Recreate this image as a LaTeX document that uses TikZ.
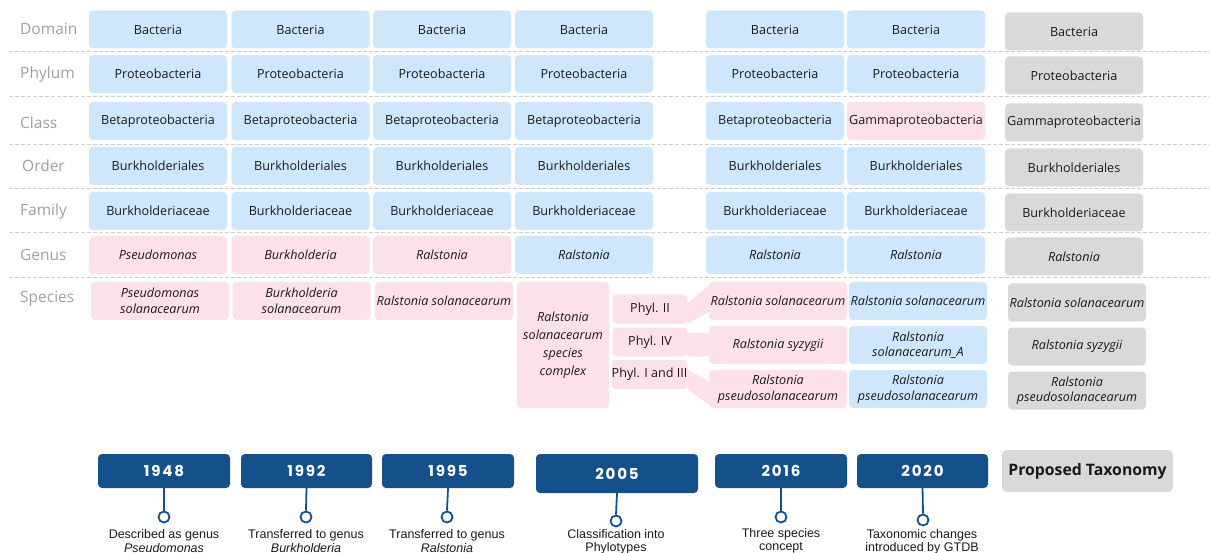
\documentclass[tikz,border=0pt]{standalone}
\usepackage{fontspec}
\setmainfont{Open Sans}
\newfontfamily\yearfont{Poppins}[LetterSpace=12]
\newfontfamily\capfont{Liberation Sans}
\usetikzlibrary{backgrounds}
\definecolor{bblue}{RGB}{206,231,252}
\definecolor{bpink}{RGB}{253,225,233}
\definecolor{bgrey}{RGB}{217,217,217}
\definecolor{dblue}{RGB}{20,80,138}
\definecolor{txt}{RGB}{26,26,26}
\definecolor{labgrey}{RGB}{160,160,160}
\definecolor{sepgrey}{RGB}{205,205,205}
\definecolor{tlgrey}{RGB}{235,235,235}
\tikzset{
  bx/.style={rounded corners=4pt, minimum width=138pt, minimum height=38pt, inner sep=0pt,
    align=center, text=txt, font=\fontsize{12.6}{15.5}\selectfont},
  bluebox/.style={bx, fill=bblue},
  pinkbox/.style={bx, fill=bpink},
  greybox/.style={bx, fill=bgrey},
  rowlab/.style={anchor=west, inner sep=0pt, text=labgrey, font=\fontsize{15.5}{17}\selectfont},
  sepline/.style={draw=sepgrey, line width=1pt, dash pattern=on 4pt off 2pt},
  yearbox/.style={rounded corners=4pt, fill=dblue, minimum width=132pt, minimum height=34pt,
    inner sep=0pt, text=white, font=\yearfont\bfseries\fontsize{15}{16}\selectfont},
  dot/.style={circle, draw=dblue, line width=1.8pt, fill=white, minimum size=11pt, inner sep=0pt},
  stem/.style={draw=dblue, line width=1.8pt},
  caption/.style={align=center, inner sep=0pt, text=txt, font=\capfont\fontsize{12.5}{13.5}\selectfont},
  tline/.style={draw=tlgrey, line width=4pt},
  phylbox/.style={pinkbox, minimum width=75pt, minimum height=29pt},
}
\begin{document}
\begin{tikzpicture}[x=1pt,y=-1pt]
\useasboundingbox (0,0) rectangle (1210,553);
\clip (0,0) rectangle (1210,553);
\fill[white] (0,0) rectangle (1210,553);

% separators
\foreach \yy in {52,97,145,189,233,278} \draw[sepline] (9,\yy) -- (1210,\yy);

% row labels
\node[rowlab] (lDomain) at (20,29) {Domain};
\node[rowlab] (lPhylum) at (20,74) {Phylum};
\node[rowlab] (lClass) at (20,123) {Class};
\node[rowlab] (lOrder) at (22,166) {Order};
\node[rowlab] (lFamily) at (20,211) {Family};
\node[rowlab] (lGenus) at (20,255) {Genus};
\node[rowlab] (lSpecies) at (20,299) {Species};

% columns 1-6 (blue rows)
\foreach \c/\x in {1/158,2/300.5,3/442,4/584,5/775,6/916} {
  \node[bluebox] (dom\c) at (\x,29.5) {Bacteria};
  \node[bluebox] (phy\c) at (\x,74) {Proteobacteria};
  \node[bluebox] (ord\c) at (\x,166) {Burkholderiales};
  \node[bluebox] (fam\c) at (\x,211) {Burkholderiaceae};
}
\foreach \c/\x in {1/158,2/300.5,3/442,4/584,5/775} {
  \node[bluebox] (cla\c) at (\x,121) {Betaproteobacteria};
}
\node[pinkbox] (cla6) at (916,121) {Gammaproteobacteria};

% genus
\node[pinkbox] (gen1) at (158,255) {\itshape Pseudomonas};
\node[pinkbox] (gen2) at (300.5,255) {\itshape Burkholderia};
\node[pinkbox] (gen3) at (442,255) {\itshape Ralstonia};
\node[bluebox] (gen4) at (584,255) {\itshape Ralstonia};
\node[bluebox] (gen5) at (775,255) {\itshape Ralstonia};
\node[bluebox] (gen6) at (916,255) {\itshape Ralstonia};

% species cols 1-3
\node[pinkbox] (spe1) at (160,301) {\itshape Pseudomonas\\\itshape solanacearum};
\node[pinkbox] (spe2) at (301.5,301) {\itshape Burkholderia\\\itshape solanacearum};
\node[pinkbox] (spe3) at (444,301) {\itshape Ralstonia solanacearum};

% species complex
\node[pinkbox, minimum width=92pt, minimum height=126pt, font=\fontsize{12.6}{18}\selectfont] (cplx) at (563,345)
  {\itshape Ralstonia\\\itshape solanacearum\\\itshape species\\\itshape complex};
\node[phylbox] (ph2) at (650,309) {Phyl. II};
\node[phylbox] (ph4) at (650,342) {Phyl. IV};
\node[phylbox, minimum width=76pt] (ph13) at (649.5,374.5) {Phyl. I and III};

% ribbons
\fill[bpink] (ph2.east |- 0,303) -- (712,283) -- (712,310) -- (ph2.south east) -- cycle;
\fill[bpink] (ph4.east |- 0,333) -- (712,333) -- (712,356) -- (ph4.south east) -- cycle;
\fill[bpink] (ph13.east |- 0,370) -- (712,383) -- (712,407) -- (ph13.south east) -- cycle;

% species col 5 (pink)
\node[pinkbox] (spe5a) at (778,301) {\itshape Ralstonia solanacearum};
\node[pinkbox] (spe5b) at (778,345) {\itshape Ralstonia syzygii};
\node[pinkbox] (spe5c) at (778,389) {\itshape Ralstonia\\\itshape pseudosolanacearum};

% species col 6 (blue)
\node[bluebox] (spe6a) at (918,301) {\itshape Ralstonia solanacearum};
\node[bluebox] (spe6b) at (918,345) {\itshape Ralstonia\\\itshape solanacearum\_A};
\node[bluebox] (spe6c) at (918,389) {\itshape Ralstonia\\\itshape pseudosolanacearum};

% grey column
\node[greybox] (dom7) at (1074,31.5) {Bacteria};
\node[greybox] (phy7) at (1074,75.5) {Proteobacteria};
\node[greybox] (cla7) at (1074,122.5) {Gammaproteobacteria};
\node[greybox] (ord7) at (1074,167.5) {Burkholderiales};
\node[greybox] (fam7) at (1074,212.5) {Burkholderiaceae};
\node[greybox] (gen7) at (1074,256.5) {\itshape Ralstonia};
\node[greybox] (spe7a) at (1077,302.5) {\itshape Ralstonia solanacearum};
\node[greybox] (spe7b) at (1077,346.5) {\itshape Ralstonia syzygii};
\node[greybox] (spe7c) at (1077,390.5) {\itshape Ralstonia\\\itshape pseudosolanacearum};

% timeline
\node[yearbox] (y1948) at (164,471) {1948};
\node[yearbox, minimum width=131pt] (y1992) at (306.5,471) {1992};
\node[yearbox] (y1995) at (448,471) {1995};
\node[yearbox, minimum width=162pt, minimum height=39pt] (y2005) at (617,473.5) {2005};
\node[yearbox] (y2016) at (781,471) {2016};
\node[yearbox, minimum width=131pt] (y2020) at (922.5,471) {2020};
\node[rounded corners=5pt, fill=bgrey, minimum width=171pt, minimum height=42pt, inner sep=0pt,
  text=txt, font=\bfseries\fontsize{15.8}{17}\selectfont] (prop) at (1087.5,471) {Proposed Taxonomy};

\begin{pgfonlayer}{background}
  \draw[tline] (y1948.center) -- (prop.center);
\end{pgfonlayer}

\node[dot] (d1948) at (164,517) {};
\node[dot] (d1992) at (306,517) {};
\node[dot] (d1995) at (447,517) {};
\node[dot] (d2005) at (616,521) {};
\node[dot] (d2016) at (781,517) {};
\node[dot] (d2020) at (923,520) {};
\foreach \n in {1948,1992,1995,2005,2016,2020} \draw[stem] (y\n.south) -- (d\n.north);

\node[caption] (t1948) at (164,541) {Described as genus\\\textit{Pseudomonas}};
\node[caption] (t1992) at (306,541) {Transferred to genus\\\textit{Burkholderia}};
\node[caption] (t1995) at (447,541) {Transferred to genus\\\textit{Ralstonia}};
\node[caption] (t2005) at (616,542) {Classification into\\Phylotypes};
\node[caption] (t2016) at (781,541) {Three species\\concept};
\node[caption] (t2020) at (922,542) {Taxonomic changes\\introduced by GTDB};
\end{tikzpicture}
\end{document}
